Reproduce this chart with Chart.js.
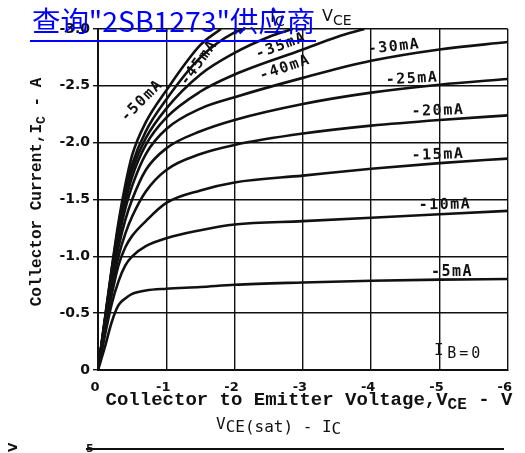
<!DOCTYPE html>
<html>
<head>
<meta charset="utf-8">
<script src="https://cdn.jsdelivr.net/npm/chart.js@4.4.0/dist/chart.umd.min.js"></script>
<style>
  html, body { margin: 0; padding: 0; background: #fff; }
</style>
</head>
<body>
<canvas id="chart" width="525" height="453"></canvas>
<script>
// 2SB1273 IC - VCE output characteristics (PNP, so both axes are negative).
// Values are magnitudes; they get negated when plotted.

// common VCE grid (V) for the curves that stay inside the plot
const vceGrid = [0, 0.1, 0.2, 0.3, 0.4, 0.5, 0.7, 1, 1.5, 2, 3, 4, 5, 6];
const ic5mA  = [0, 0.20, 0.42, 0.57, 0.63, 0.67, 0.70, 0.715, 0.73, 0.75, 0.77, 0.785, 0.795, 0.80];
const ic10mA = [0, 0.30, 0.58, 0.78, 0.92, 1.00, 1.09, 1.16, 1.23, 1.28, 1.31, 1.34, 1.37, 1.40];
const ic15mA = [0, 0.35, 0.66, 0.92, 1.08, 1.18, 1.31, 1.47, 1.58, 1.65, 1.71, 1.77, 1.82, 1.86];
const ic20mA = [0, 0.38, 0.72, 1.00, 1.20, 1.35, 1.57, 1.76, 1.90, 1.98, 2.08, 2.15, 2.20, 2.24];
const ic25mA = [0, 0.40, 0.78, 1.08, 1.32, 1.50, 1.76, 1.95, 2.10, 2.20, 2.34, 2.44, 2.51, 2.56];
const ic30mA = [0, 0.42, 0.82, 1.15, 1.42, 1.62, 1.90, 2.12, 2.30, 2.40, 2.57, 2.72, 2.82, 2.885];

// the high base currents run off the top of the plot, so they get their own VCE lists
const vce35mA = [0, 0.1, 0.2, 0.3, 0.4, 0.5, 0.7, 1, 1.5, 2, 3, 3.5, 3.9];
const ic35mA  = [0, 0.43, 0.84, 1.20, 1.48, 1.70, 1.98, 2.22, 2.45, 2.60, 2.82, 2.93, 3.0];
const vce40mA = [0, 0.1, 0.2, 0.3, 0.4, 0.5, 0.7, 1, 1.5, 2, 2.5, 2.85];
const ic40mA  = [0, 0.43, 0.86, 1.24, 1.54, 1.76, 2.04, 2.30, 2.60, 2.79, 2.93, 3.0];
const vce45mA = [0, 0.1, 0.2, 0.3, 0.4, 0.5, 0.7, 1, 1.5, 2, 2.15];
const ic45mA  = [0, 0.44, 0.88, 1.27, 1.58, 1.81, 2.10, 2.38, 2.75, 2.97, 3.0];
const vce50mA = [0, 0.1, 0.2, 0.3, 0.4, 0.5, 0.7, 1, 1.5, 1.8];
const ic50mA  = [0, 0.45, 0.89, 1.30, 1.63, 1.89, 2.18, 2.46, 2.86, 3.0];

const baseLabels = ['-5mA', '-10mA', '-15mA', '-20mA', '-25mA', '-30mA', '-35mA', '-40mA', '-45mA', '-50mA'];

const xTicks = [0, -1, -2, -3, -4, -5, -6];
const yTicks = [0, -0.5, -1.0, -1.5, -2.0, -2.5, -3.0];

const curves = [
  [vceGrid, ic5mA], [vceGrid, ic10mA], [vceGrid, ic15mA], [vceGrid, ic20mA],
  [vceGrid, ic25mA], [vceGrid, ic30mA], [vce35mA, ic35mA], [vce40mA, ic40mA],
  [vce45mA, ic45mA], [vce50mA, ic50mA]
];

const INK = '#111';

const datasets = curves.map(([vs, is], k) => ({
  label: baseLabels[k],
  data: vs.map((v, j) => ({ x: -v, y: -is[j] })),
  borderColor: INK,
  borderWidth: 2.6,
  pointRadius: 0,
  fill: false,
  cubicInterpolationMode: 'monotone'
}));

// draw a run of text pieces (for subscripts), left aligned at x
function rich(ctx, parts, x, y) {
  let cx = x;
  for (const p of parts) {
    ctx.font = p.font;
    ctx.letterSpacing = p.ls || '0px';
    ctx.fillText(p.t, cx, y + (p.dy || 0));
    cx += ctx.measureText(p.t).width;
  }
  ctx.letterSpacing = '0px';
  return cx - x;
}
function richWidth(ctx, parts) {
  let w = 0;
  for (const p of parts) {
    ctx.font = p.font;
    ctx.letterSpacing = p.ls || '0px';
    w += ctx.measureText(p.t).width;
  }
  ctx.letterSpacing = '0px';
  return w;
}

const annotations = {
  id: 'annotations',
  afterDraw(chart) {
    const ctx = chart.ctx;
    ctx.save();
    ctx.fillStyle = INK;
    ctx.textBaseline = 'middle';
    ctx.textAlign = 'center';
    ctx.letterSpacing = '1.5px';

    // curve labels: [text, centre x, centre y, angle in degrees]
    const tags = [
      ['-50mA', 142, 101, -45], ['-45mA', 199, 63, -54], ['-35mA', 281, 46, -20],
      ['-40mA', 285, 68, -19], ['-30mA', 394, 47, -6], ['-25mA', 412, 79, -3],
      ['-20mA', 438, 111, -2], ['-15mA', 438, 155, -2], ['-10mA', 445, 205, -1],
      ['-5mA', 452, 272, 0]
    ];
    ctx.font = 'bold 15px "DejaVu Sans Mono"';
    for (const [t, x, y, a] of tags) {
      ctx.save();
      ctx.translate(x, y);
      ctx.rotate(a * Math.PI / 180);
      ctx.fillText(t, 0, 0);
      ctx.restore();
    }
    ctx.letterSpacing = '0px';

    // I_B = 0
    ctx.textAlign = 'left';
    ctx.textBaseline = 'alphabetic';
    rich(ctx, [
      { t: 'I', font: '16px "DejaVu Sans Mono"', dy: -2 },
      { t: ' ', font: '6px "DejaVu Sans Mono"' },
      { t: 'B=0', font: '15px "DejaVu Sans Mono"', dy: 1, ls: '3px' }
    ], 434, 357);

    // x axis title
    const xParts = [
      { t: 'Collector to Emitter Voltage,V', font: 'bold 19px "Liberation Mono"' },
      { t: 'CE', font: 'bold 16px "Liberation Mono"', dy: 4 },
      { t: ' - V', font: 'bold 19px "Liberation Mono"' }
    ];
    rich(ctx, xParts, 309 - richWidth(ctx, xParts) / 2, 405);

    // y axis title
    const yParts = [
      { t: 'Collector Current,I', font: 'bold 16px "Liberation Mono"' },
      { t: 'C', font: 'bold 13px "Liberation Mono"', dy: 4 },
      { t: ' - A', font: 'bold 16px "Liberation Mono"' }
    ];
    ctx.save();
    ctx.translate(41, 192);
    ctx.rotate(-Math.PI / 2);
    rich(ctx, yParts, -richWidth(ctx, yParts) / 2, 0);
    ctx.restore();

    // chart title (mostly hidden behind the link text)
    rich(ctx, [
      { t: 'I', font: '17px "DejaVu Sans"' },
      { t: 'C', font: '14px "DejaVu Sans"', dy: 4 },
      { t: ' - ', font: '17px "DejaVu Sans"' }
    ], 270, 22);
    rich(ctx, [
      { t: 'V', font: '16px "DejaVu Sans"' },
      { t: 'CE', font: '14px "DejaVu Sans"', dy: 4 }
    ], 322, 21);

    // caption and top edge of the next graph on the sheet
    rich(ctx, [
      { t: 'V', font: '16px "DejaVu Sans Mono"', dy: -3 },
      { t: 'CE(sat) - I', font: '16px "DejaVu Sans Mono"' },
      { t: 'C', font: '16px "DejaVu Sans Mono"', dy: 2 }
    ], 216, 432);
    ctx.strokeStyle = INK;
    ctx.lineWidth = 2;
    ctx.beginPath();
    ctx.moveTo(86, 449);
    ctx.lineTo(504, 449);
    ctx.stroke();
    ctx.font = 'bold 11px "DejaVu Sans"';
    ctx.fillText('5', 86, 452);
    ctx.save();
    ctx.translate(13, 447);
    ctx.rotate(-Math.PI / 2);
    ctx.font = 'bold 12px "DejaVu Sans"';
    ctx.fillText('V', -5, 4);
    ctx.restore();

    // supplier link overlay
    ctx.fillStyle = '#0000ff';
    const link = '查询"2SB1273"供应商';
    ctx.font = '28px "Noto Sans CJK SC"';
    const w = ctx.measureText(link).width;
    const size = 28 * 283 / w;
    ctx.font = size.toFixed(1) + 'px "Noto Sans CJK SC"';
    ctx.fillText(link, 32, 32);
    ctx.fillRect(30, 40, 286, 2);
    ctx.restore();
  }
};

new Chart(document.getElementById('chart'), {
  type: 'line',
  data: { datasets },
  options: {
    responsive: false,
    devicePixelRatio: 1,
    animation: false,
    layout: { padding: { top: 29, right: 9, left: 0, bottom: 0 } },
    plugins: { legend: { display: false }, tooltip: { enabled: false }, title: { display: false } },
    scales: {
      x: {
        type: 'linear',
        min: -6, max: 0, reverse: true,
        afterFit: s => { s.height = 83; },
        afterBuildTicks: s => { s.ticks = xTicks.map(v => ({ value: v })); },
        ticks: {
          color: INK, padding: 10, labelOffset: -3,
          font: { family: 'DejaVu Sans', size: 13, weight: 'bold' },
          callback: v => v === 0 ? '0' : String(v)
        },
        grid: { color: INK, lineWidth: 1.4, tickLength: 0 },
        border: { color: INK, width: 2 }
      },
      y: {
        type: 'linear',
        min: -3, max: 0, reverse: true,
        afterFit: s => { s.width = 98; },
        afterBuildTicks: s => { s.ticks = yTicks.map(v => ({ value: v })); },
        ticks: {
          color: INK, padding: 3,
          font: { family: 'DejaVu Sans', size: 14, weight: 'bold' },
          callback: v => v === 0 ? '0' : v.toFixed(1)
        },
        grid: { color: INK, lineWidth: 1.4, tickLength: 5 },
        border: { color: INK, width: 2 }
      }
    }
  },
  plugins: [annotations]
});
</script>
</body>
</html>
